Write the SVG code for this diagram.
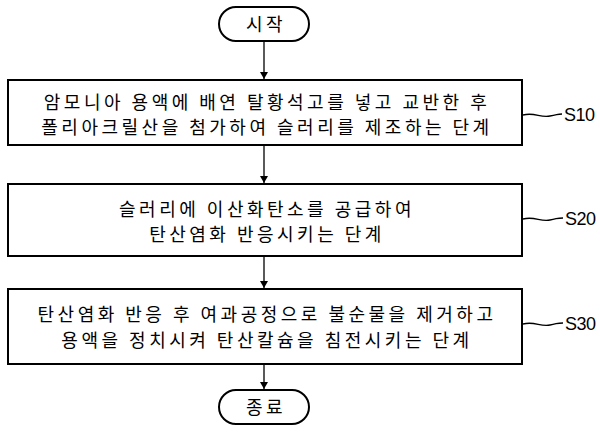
<svg xmlns="http://www.w3.org/2000/svg" width="600" height="434" viewBox="0 0 600 434">
<defs><marker id="a" markerWidth="8" markerHeight="10" refX="7" refY="5" orient="auto" markerUnits="userSpaceOnUse"><path d="M0,1 L7,5 L0,9 Z" fill="#000"/></marker>
<style>.b{fill:#fff;stroke:#000;stroke-width:2}.t{font-family:"Noto Sans CJK KR","Liberation Sans",sans-serif;font-size:18px;text-anchor:middle;letter-spacing:3.5px}.l{font-family:"Liberation Sans",sans-serif;font-size:18px}.c{stroke:#000;stroke-width:1.3;fill:none}</style></defs>
<rect width="600" height="434" fill="#fff"/>
<g id="start"><rect class="b" x="219" y="7" width="90" height="34" rx="17"/><text class="t" x="266" y="31">시작</text></g>
<g id="s10"><rect class="b" x="8" y="80" width="514" height="65"/><text class="t" x="267" y="109">암모니아 용액에 배연 탈황석고를 넣고 교반한 후</text><text class="t" x="267" y="134">폴리아크릴산을 첨가하여 슬러리를 제조하는 단계</text></g>
<g id="s20"><rect class="b" x="8" y="184" width="514" height="72"/><text class="t" x="267" y="216">슬러리에 이산화탄소를 공급하여</text><text class="t" x="267" y="241">탄산염화 반응시키는 단계</text></g>
<g id="s30"><rect class="b" x="8" y="289" width="514" height="75"/><text class="t" x="267" y="321">탄산염화 반응 후 여과공정으로 불순물을 제거하고</text><text class="t" x="267" y="347">용액을 정치시켜 탄산칼슘을 침전시키는 단계</text></g>
<g id="end"><rect class="b" x="219" y="390" width="90" height="34" rx="17"/><text class="t" x="266" y="414">종료</text></g>
<g id="connectors">
<line class="c" x1="264" y1="41" x2="264" y2="79" marker-end="url(#a)"/>
<line class="c" x1="264" y1="145" x2="264" y2="183" marker-end="url(#a)"/>
<line class="c" x1="264" y1="256" x2="264" y2="288" marker-end="url(#a)"/>
<line class="c" x1="264" y1="364" x2="264" y2="389" marker-end="url(#a)"/>
<path class="c" d="M523,115 C535,112 540,118 550,116 S558,114 562,114"/>
<path class="c" d="M523,219 C535,216 540,222 550,220 S558,218 563,218"/>
<path class="c" d="M523,324 C535,321 540,327 550,325 S558,323 563,323"/>
</g>
<text class="l" x="564" y="121" textLength="31">S10</text>
<text class="l" x="565" y="225" textLength="31">S20</text>
<text class="l" x="565" y="330" textLength="31">S30</text>
</svg>
